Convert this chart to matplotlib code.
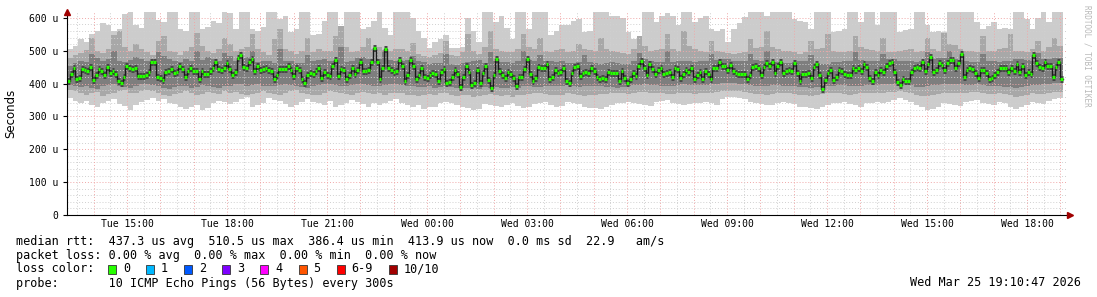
import numpy as np
import matplotlib
matplotlib.use("Agg")
import matplotlib.pyplot as plt

# ---------------- data (microseconds) ----------------
median_rtt = [
    409,429,447,414,417,444,441,437,452,412,427,444,439,427,451,432,439,429,409,402,420,454,449,445,447,423,423,423,427,434,465,467,419,417,412,434,437,444,431,435,455,445,420,437,447,437,437,415,437,429,429,439,447,467,444,441,447,464,
    444,425,434,477,486,451,447,465,475,439,455,441,445,449,441,437,415,425,445,445,445,455,441,423,446,441,415,402,427,432,429,439,449,417,435,427,424,455,472,424,443,441,415,425,449,430,441,465,439,439,441,465,509,465,415,449,505,446,441,434,
    438,471,454,407,425,472,454,414,425,449,421,416,425,433,430,407,435,444,402,405,420,441,430,390,421,455,435,395,401,441,401,433,455,410,386,425,474,438,425,418,435,428,416,394,421,421,444,474,428,409,418,451,449,446,459,413,419,441,431,435,
    446,407,401,433,450,454,423,433,435,431,448,438,421,415,418,413,435,433,433,433,407,438,417,403,413,433,423,455,470,448,425,459,445,429,441,446,430,433,435,421,448,445,417,429,440,436,446,413,425,435,413,438,428,413,449,449,466,454,454,441,
    456,437,433,429,430,428,415,425,451,454,446,427,450,462,454,467,433,454,467,433,439,440,439,464,433,407,429,429,431,417,451,460,425,385,411,433,441,411,421,440,438,429,427,425,446,440,448,438,459,452,417,408,435,425,440,436,454,464,466,436,
    405,397,415,409,409,436,448,452,448,466,438,460,482,435,441,462,458,441,464,471,471,448,462,491,419,441,448,443,433,417,440,440,431,413,417,427,435,446,446,448,436,448,438,460,436,454,427,436,428,486,464,452,449,466,454,454,419,452,466,413,
]

# smoke: outer (lightest) pair, middle pair, inner pair
smoke_hi1 = [
    505,515,535,528,552,560,584,578,560,566,612,650,578,570,650,625,594,588,650,650,566,560,650,632,566,572,590,584,650,614,
    567,650,650,567,560,572,650,650,597,605,557,565,650,650,547,552,590,650,650,560,650,650,650,567,572,590,650,570,547,650,
    650,650,600,560,540,507,527,535,547,507,507,510,600,560,527,650,650,587,607,570,537,650,620,567,650,650,650,547,560,577,
    577,590,597,557,560,650,650,650,607,607,600,557,537,545,650,650,587,607,615,607,577,650,650,587,600,607,567,560,567,527,
    567,585,602,650,650,650,607,620,650,650,650,597,590,587,567,650,650,650,557,560,567,650,620,587,650,650,577,650,650,650,
    557,562,567,650,620,577,557,560,557,650,650,650,650,620,587,567,575,587,567,570,567,650,620,597,567,600,650,587,620,650,
]
smoke_lo1 = [
    355,348,340,346,335,330,342,348,352,338,332,320,336,344,350,356,348,352,342,338,330,322,328,334,320,326,340,346,344,338,
    345,352,358,330,336,340,355,350,346,338,330,336,345,352,344,340,335,348,330,336,342,350,345,338,330,340,336,340,348,352,
    340,335,330,335,322,328,330,340,345,340,335,330,325,320,324,338,335,332,328,334,340,332,325,330,338,342,345,335,330,332,
    345,340,338,330,326,325,322,328,335,340,342,345,340,338,334,332,345,348,350,340,338,335,338,340,342,345,340,335,352,360,
    360,356,352,345,340,338,335,336,340,345,342,338,330,328,325,322,328,335,340,342,345,338,334,330,340,342,345,340,345,350,
    355,350,345,335,328,320,324,328,340,338,336,332,345,348,350,340,338,335,345,340,330,322,328,335,345,340,338,348,352,355,
]
smoke_hi2 = [
    478,486,494,502,540,498,492,505,548,560,512,498,522,505,496,488,530,545,500,495,488,498,510,555,515,498,492,505,540,520,
    498,505,512,550,505,495,488,535,565,505,498,490,500,540,495,505,500,498,545,575,512,495,500,510,540,505,512,502,498,506,
    505,498,525,490,484,480,488,492,530,488,485,495,550,498,490,512,560,505,500,496,495,505,550,512,505,540,500,495,502,505,
    495,498,520,505,502,498,540,505,500,495,492,490,505,545,515,500,502,505,550,505,500,560,515,505,498,496,530,500,496,492,
    490,492,495,535,508,510,560,512,505,500,498,495,490,495,530,505,508,550,498,496,495,500,545,510,505,502,500,540,496,495,
    500,502,505,495,500,540,505,500,555,520,518,505,500,498,495,545,500,498,505,508,550,500,498,495,505,530,500,510,540,515,
]
smoke_lo2 = [
    382,376,372,366,370,374,362,368,372,378,380,372,370,376,382,378,372,366,362,368,372,376,370,364,368,374,372,368,376,372,
    374,368,364,368,372,376,372,368,364,370,376,380,372,368,364,366,372,376,374,370,368,364,370,374,372,368,370,366,370,372,
    370,366,365,362,366,368,365,370,372,366,362,364,365,360,362,365,368,364,362,366,360,364,365,368,370,372,368,366,365,366,
    370,368,366,362,364,365,368,368,370,372,370,368,372,374,375,370,371,372,368,369,370,372,370,368,372,371,370,375,376,378,
    378,376,375,370,369,368,366,368,370,372,370,368,365,364,362,366,368,370,372,370,368,366,368,370,372,371,370,372,374,375,
    378,375,372,365,362,362,366,368,370,372,371,370,372,374,375,370,369,368,372,369,366,360,362,365,370,369,368,372,374,375,
]
smoke_hi3 = [
    455,462,470,466,490,478,468,474,500,470,466,472,480,476,470,468,495,484,476,470,466,474,470,498,472,480,476,470,492,484,
    468,476,482,500,466,470,468,464,505,468,470,464,462,488,468,472,476,470,468,510,466,470,478,482,476,470,474,498,472,470,
    470,472,485,468,465,460,462,464,490,460,458,462,465,470,472,462,495,468,466,465,462,470,500,472,470,488,470,468,465,470,
    462,464,465,488,465,462,460,462,465,462,461,460,470,492,475,468,466,465,498,465,468,470,468,466,468,470,490,472,474,475,
    468,469,470,490,471,470,500,466,465,462,464,466,468,469,488,462,461,460,465,466,468,470,495,472,470,469,468,490,474,475,
    470,469,468,465,468,495,476,477,478,500,476,472,468,466,465,490,469,468,465,468,470,475,474,472,470,492,474,476,477,478,
]
smoke_lo3 = [
    396,392,390,394,388,384,392,396,398,394,390,386,392,398,400,396,392,388,384,390,394,392,388,390,396,394,390,386,392,394,
    400,398,394,396,398,394,392,394,396,398,396,392,390,388,392,396,398,400,396,394,392,396,398,400,396,392,394,396,398,400,
    395,394,392,390,391,392,388,390,392,390,388,386,387,388,385,390,388,389,386,388,390,388,392,394,390,390,392,393,394,394,
    395,392,390,392,393,394,392,391,390,388,390,392,396,397,398,395,395,394,392,393,395,398,397,396,395,396,398,400,401,402,
    402,400,398,395,393,392,394,395,396,394,393,392,390,389,388,390,391,392,394,395,396,392,393,394,395,396,396,398,399,400,
    402,398,395,390,391,392,395,396,398,400,399,398,396,397,398,395,394,394,392,391,390,388,390,392,396,397,398,400,401,402,
]

y_ticks = [0, 100, 200, 300, 400, 500, 600]
y_tick_labels = ["0", "100 u", "200 u", "300 u", "400 u", "500 u", "600 u"]
x_ticks_h = [15, 18, 21, 24, 27, 30, 33, 36, 39, 42]
x_tick_labels = ["Tue 15:00", "Tue 18:00", "Tue 21:00", "Wed 00:00", "Wed 03:00",
                 "Wed 06:00", "Wed 09:00", "Wed 12:00", "Wed 15:00", "Wed 18:00"]
loss_labels = ["0", "1", "2", "3", "4", "5", "6-9", "10/10"]
loss_colors = ["#26ff00", "#00b8ff", "#0059ff", "#7e00ff", "#ff00ff", "#ff5500", "#ff0000", "#a10000"]

line1 = "median rtt:  437.3 us avg  510.5 us max  386.4 us min  413.9 us now  0.0 ms sd  22.9   am/s"
line2 = "packet loss: 0.00 % avg  0.00 % max  0.00 % min  0.00 % now"
line4 = "probe:       10 ICMP Echo Pings (56 Bytes) every 300s"
stamp = "Wed Mar 25 19:10:47 2026"

# ---------------- figure ----------------
W, H = 1097, 297
fig = plt.figure(figsize=(W / 100, H / 100), dpi=100)
fig.patch.set_facecolor("white")
L, R, T, B = 67, 1067, 12, 215
ax = fig.add_axes([L / W, 1 - B / H, (R - L) / W, (B - T) / H])
ax.set_facecolor("white")

t_start, t_end = 13.2, 43.2
data_end = 43.08
mono = "DejaVu Sans Mono"

def band(lo, hi, color):
    n = len(lo)
    edges = np.linspace(t_start, data_end, n + 1)
    lo_a = np.append(lo, lo[-1])
    hi_a = np.append(hi, hi[-1])
    ax.fill_between(edges, lo_a, hi_a, step="post", color=color, lw=0, zorder=1)

band(smoke_lo1, smoke_hi1, "#cccccc")
band(smoke_lo2, smoke_hi2, "#a8a8a8")
band(smoke_lo3, smoke_hi3, "#7e7e7e")

# median: dark core around each step, thin dark step line, green marks
m = np.array(median_rtt, dtype=float)
n = len(m)
edges = np.linspace(t_start, data_end, n + 1)
ax.hlines(m, edges[:-1], edges[1:], colors="#474747", lw=5.0, zorder=2.5)
ax.step(edges, np.append(m, m[-1]), where="post", color="#1a1a1a", lw=1.0, zorder=3)
ax.hlines(m, edges[:-1], edges[1:], colors="#26ff00", lw=2.3, zorder=4)

ax.set_xlim(t_start, t_end)
ax.set_ylim(0, 618)

# grid (drawn over the smoke as rrdtool does)
for v in np.arange(20, 620, 20):
    col = "#f0a8a8" if v % 100 == 0 else "#d0d0d0"
    ax.axhline(v, color=col, lw=0.7, ls=(0, (1, 2)), zorder=2)
for h in np.arange(13.5, 43.2, 0.5):
    col = "#f0a8a8" if abs(h - round(h)) < 1e-6 else "#d0d0d0"
    ax.axvline(h, color=col, lw=0.7, ls=(0, (1, 2)), zorder=2)

for s in ["top", "right"]:
    ax.spines[s].set_visible(False)
for s in ["left", "bottom"]:
    ax.spines[s].set_color("black")
    ax.spines[s].set_linewidth(0.8)
    ax.spines[s].set_zorder(5)

ax.set_yticks(y_ticks)
ax.set_yticklabels(y_tick_labels, fontfamily=mono, fontsize=7)
ax.tick_params(axis="y", length=3, width=0.8, pad=3)
ax.set_xticks(x_ticks_h)
ax.set_xticklabels(x_tick_labels, fontfamily=mono, fontsize=7)
ax.tick_params(axis="x", length=0, pad=3)
ax.set_ylabel("Seconds", fontsize=8.5, labelpad=9)

# arrows
ax.plot([0], [1.0], marker="^", color="#a00000", ms=4, transform=ax.transAxes, clip_on=False, zorder=6)
ax.plot([1.003], [0], marker=">", color="#a00000", ms=4, transform=ax.transAxes, clip_on=False, zorder=6)

fig.text(1087 / W, 1 - 5 / H, "RRDTOOL / TOBI OETIKER", rotation=270, fontfamily=mono,
         fontsize=5.5, color="#b8b8b8", ha="center", va="top")

fs = 8.5
def ytxt(y):
    return 1 - y / H
fig.text(16 / W, ytxt(241), line1, fontfamily=mono, fontsize=fs, va="center")
fig.text(16 / W, ytxt(255), line2, fontfamily=mono, fontsize=fs, va="center")
fig.text(16 / W, ytxt(269), "loss color:", fontfamily=mono, fontsize=fs, va="center")
fig.text(16 / W, ytxt(283), line4, fontfamily=mono, fontsize=fs, va="center")
fig.text(1081 / W, ytxt(283), stamp, fontfamily=mono, fontsize=fs, va="center", ha="right")

cw = 7.1
x = 108
for lab, col in zip(loss_labels, loss_colors):
    fig.patches.append(plt.Rectangle((x / W, 1 - 273.5 / H), 8 / W, 9 / H, transform=fig.transFigure,
                                     facecolor=col, edgecolor="#333333", lw=0.6))
    fig.text((x + 15) / W, ytxt(269), lab, fontfamily=mono, fontsize=fs, va="center")
    x = x + 15 + cw * len(lab) + 16

fig.savefig("out.png", dpi=100)
